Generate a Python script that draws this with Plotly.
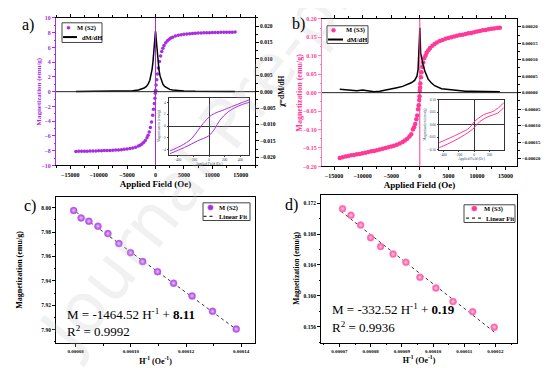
import plotly.graph_objects as go

# ---------------- data ----------------
# panel a: M (S2) vs applied field
H_a = [-14000, -13500, -13000, -12500, -12000, -11500, -11000, -10500, -10000, -9500, -9000, -8500,
       -8000, -7500, -7000, -6500, -6000, -5500, -5000, -4500, -4000, -3500, -3000, -2700, -2400,
       -2100, -1800, -1500, -1300, -1100, -900, -700, -500, -350, -200, -100, -30,
       30, 100, 200, 350, 500, 700, 900, 1100, 1300, 1500, 1800, 2100, 2400, 2700, 3000, 3500,
       4000, 4500, 5000, 5500, 6000, 6500, 7000, 7500, 8000, 8500, 9000, 9500, 10000, 10500,
       11000, 11500, 12000, 12500, 13000, 13500, 14000]
M_a = [-8.10, -8.09, -8.08, -8.07, -8.06, -8.05, -8.04, -8.03, -8.02, -8.00, -7.99, -7.97,
       -7.96, -7.94, -7.92, -7.89, -7.86, -7.82, -7.78, -7.72, -7.64, -7.53, -7.38, -7.26, -7.10,
       -6.90, -6.62, -6.25, -5.90, -5.45, -4.85, -4.10, -3.20, -2.40, -1.60, -0.90, -0.20,
       0.20, 0.90, 1.60, 2.40, 3.20, 4.10, 4.85, 5.45, 5.90, 6.25, 6.62, 6.90, 7.10, 7.26, 7.38, 7.53,
       7.64, 7.72, 7.78, 7.82, 7.86, 7.89, 7.92, 7.94, 7.96, 7.97, 7.99, 8.00, 8.01, 8.02,
       8.03, 8.04, 8.05, 8.06, 8.07, 8.07, 8.08]
Hd_a = [-14000, -10000, -7000, -5000, -4000, -3000, -2500, -2000, -1600, -1300, -1000, -800, -600,
        -450, -300, -200, -100, -50, 0, 50, 100, 200, 300, 450, 600, 800, 1000, 1300, 1600, 2000,
        2500, 3000, 4000, 5000, 7000, 10000, 14000]
dMdH_a = [0.00003, 0.00005, 0.0001, 0.0002, 0.0003, 0.0005, 0.0007, 0.0011, 0.0016, 0.0023, 0.0035,
          0.0048, 0.0068, 0.0090, 0.0118, 0.0140, 0.0165, 0.0178, 0.0185, 0.0178, 0.0165, 0.0140,
          0.0118, 0.0090, 0.0068, 0.0048, 0.0035, 0.0023, 0.0016, 0.0011, 0.0007, 0.0005, 0.0003,
          0.0002, 0.0001, 0.00005, 0.00003]
# inset a (low-field loop)
Hi_a_up = [512, 374, 202, 30, -77, -142, -228, -357, -499]
Mi_a_up = [4.40, 3.71, 2.80, 1.83, 0.40, -0.74, -2.17, -3.31, -4.17]
Hi_a_dn = [-499, -314, -142, 0, 73, 138, 245, 374, 512]
Mi_a_dn = [-4.63, -3.60, -2.46, -1.60, -0.46, 0.97, 2.40, 3.37, 4.00]

# panel b: M (S3)
H_b = [-14000, -13500, -13000, -12500, -12000, -11500, -11000, -10500, -10000, -9500, -9000, -8500,
       -8000, -7500, -7000, -6500, -6000, -5500, -5000, -4500, -4000, -3500, -3000, -2600, -2200,
       -1800, -1500, -1200, -1000, -800, -600, -450, -300, -200, -100, -50,
       0, 50, 100, 200, 300, 450, 600, 800, 1000, 1200, 1500, 1800, 2200, 2600, 3000, 3500, 4000,
       4500, 5000, 5500, 6000, 6500, 7000, 7500, 8000, 8500, 9000, 9500, 10000, 10500, 11000,
       11500, 12000, 12500, 13000, 13500, 14000]
M_b = [-0.177, -0.175, -0.173, -0.172, -0.170, -0.169, -0.167, -0.166, -0.164, -0.163, -0.161,
       -0.159, -0.158, -0.156, -0.154, -0.152, -0.150, -0.148, -0.146, -0.144, -0.141, -0.138,
       -0.134, -0.130, -0.125, -0.119, -0.113, -0.100, -0.094, -0.085, -0.072, -0.062, -0.045,
       -0.034, -0.020, -0.010,
       0.005, 0.014, 0.025, 0.042, 0.055, 0.070, 0.082, 0.094, 0.101, 0.108, 0.115, 0.121, 0.127,
       0.132, 0.136, 0.140, 0.143, 0.146, 0.148, 0.150, 0.152, 0.154, 0.156, 0.157, 0.159, 0.161,
       0.162, 0.164, 0.166, 0.167, 0.169, 0.170, 0.172, 0.173, 0.174, 0.175, 0.176]
Hd_b = [-14000, -13000, -12000, -11000, -10000, -9000, -8000, -7000, -6000, -5000, -4000, -3000,
        -2000, -1500, -900, -500, -300, -150, -50, 0, 50, 100, 150, 200, 300, 580, 875, 1460, 2000,
        2600, 3800, 5500, 7000, 8000, 9000, 10000, 11000, 12000, 13000, 14000]
dMdH_b = [0.000010, 0.000009, 0.000007, 0.000006, 0.000008, 0.000005, 0.000003, 0.000004, 0.000007,
          0.000011, 0.000015, 0.000019, 0.000025, 0.000030, 0.000037, 0.000050, 0.000070, 0.000110,
          0.000170, 0.000197, 0.000185, 0.000150, 0.000120, 0.000115, 0.000105, 0.000085, 0.000066,
          0.000041, 0.000030, 0.000021, 0.000012, 0.000008, 0.000005, 0.000004, 0.000004, 0.000004,
          0.000003, 0.000003, 0.000003, 0.000003]
# inset b
Hi_b_up = [-452, -313, -175, -60, 0, 124, 263, 387]
Mi_b_up = [-0.072, -0.053, -0.033, -0.013, 0.0105, 0.039, 0.055, 0.087]
Hi_b_dn = [-452, -267, -83, 0, 78, 194, 309, 387]
Mi_b_dn = [-0.092, -0.066, -0.033, -0.013, 0.013, 0.033, 0.046, 0.068]

# panel c: M vs 1/H (S2)
invH_c = [0.0000793, 0.0000820, 0.0000848, 0.0000881, 0.0000917, 0.0000957, 0.0000999, 0.0001043,
          0.0001097, 0.0001155, 0.0001222, 0.0001296, 0.0001382]
M_c = [7.9978, 7.9917, 7.9890, 7.9849, 7.9788, 7.9707, 7.9632, 7.9559, 7.9476, 7.9382, 7.9277,
       7.9151, 7.9005]
fit_x_c = [0.0000784, 0.0001392]
fit_y_c = [7.9995, 7.8987]

# panel d: M vs 1/H (S3)
invH_d = [0.0000710, 0.0000737, 0.0000768, 0.0000800, 0.0000832, 0.0000872, 0.0000913, 0.0000958,
          0.0001009, 0.0001064, 0.0001127, 0.0001196]
M_d = [0.17128, 0.17043, 0.16916, 0.16753, 0.16638, 0.16541, 0.16435, 0.16240, 0.16100, 0.15926,
       0.15794, 0.15595]
fit_x_d = [0.0000705, 0.0001196]
fit_y_d = [0.17094, 0.15532]

# ---------------- style ----------------
PURPLE = "#A62EE0"
PINK = "#FF3A96"
PINK_AX = "#FF7DB8"
SERIF = "Liberation Serif"
W, Hh = 554, 368

def px(x):
    return x / W

def py(y):
    return 1 - y / Hh

def tf(size, color="black"):
    return dict(family=SERIF, size=size, color=color, weight="bold")

fig = go.Figure()

# panel a
fig.add_trace(go.Scatter(x=H_a, y=M_a, mode="markers", name="M (S2)", xaxis="x", yaxis="y",
                         marker=dict(color=PURPLE, size=3.5)))
fig.add_trace(go.Scatter(x=Hd_a, y=dMdH_a, mode="lines", name="dM/dH", xaxis="x", yaxis="y2",
                         line=dict(color="black", width=1.5)))
fig.add_trace(go.Scatter(x=Hi_a_up, y=Mi_a_up, mode="lines", line=dict(color=PURPLE, width=1, shape="spline"),
                         xaxis="x5", yaxis="y7"))
fig.add_trace(go.Scatter(x=Hi_a_dn, y=Mi_a_dn, mode="lines", line=dict(color=PURPLE, width=1, shape="spline"),
                         xaxis="x5", yaxis="y7"))

# panel b
fig.add_trace(go.Scatter(x=H_b, y=M_b, mode="markers", name="M (S3)", xaxis="x2", yaxis="y3",
                         marker=dict(color=PINK, size=4.5)))
fig.add_trace(go.Scatter(x=Hd_b, y=dMdH_b, mode="lines", name="dM/dH", xaxis="x2", yaxis="y4",
                         line=dict(color="black", width=1.5)))
fig.add_trace(go.Scatter(x=Hi_b_up, y=Mi_b_up, mode="lines", line=dict(color=PINK, width=1, shape="spline"),
                         xaxis="x6", yaxis="y8"))
fig.add_trace(go.Scatter(x=Hi_b_dn, y=Mi_b_dn, mode="lines", line=dict(color=PINK, width=1, shape="spline"),
                         xaxis="x6", yaxis="y8"))

# panel c
fig.add_trace(go.Scatter(x=fit_x_c, y=fit_y_c, mode="lines", name="Linear Fit", xaxis="x3", yaxis="y5",
                         line=dict(color="#333333", width=1, dash="dot")))
fig.add_trace(go.Scatter(x=invH_c, y=M_c, mode="markers", name="M (S2)", xaxis="x3", yaxis="y5",
                         marker=dict(color=PURPLE, size=7, line=dict(color="#C97CF0", width=0.5),
                                     gradient=dict(type="radial", color="#E9C8FF"))))
# panel d
fig.add_trace(go.Scatter(x=fit_x_d, y=fit_y_d, mode="lines", name="Linear Fit", xaxis="x4", yaxis="y6",
                         line=dict(color="#333333", width=1, dash="dot")))
fig.add_trace(go.Scatter(x=invH_d, y=M_d, mode="markers", name="M (S3)", xaxis="x4", yaxis="y6",
                         marker=dict(color=PINK, size=7, line=dict(color="#FF9CC8", width=0.5),
                                     gradient=dict(type="radial", color="#FFD0E6"))))
fig.update_traces(showlegend=False)

def xax(domain, anchor, rng, tickvals, fmt, title, tsize, lsize, mirror="ticks", minor_d=None, color="black"):
    d = dict(domain=domain, anchor=anchor, range=rng, tickvals=tickvals, tickformat=fmt,
             showgrid=False, zeroline=False, showline=True, linecolor=color, linewidth=1,
             mirror=mirror, ticks="outside", ticklen=3, tickcolor=color, tickfont=tf(lsize),
             title=dict(text=title, font=tf(tsize), standoff=4))
    if minor_d is not None:
        d["minor"] = dict(dtick=minor_d, ticks="outside", ticklen=1.5, tickcolor=color)
    return d

def yax(domain, anchor, rng, tickvals, fmt, lsize, color="black", mirror=False,
        side="left", overlaying=None, minor_d=None, fcolor=None):
    d = dict(domain=domain, anchor=anchor, range=rng, tickvals=tickvals, tickformat=fmt,
             showgrid=False, zeroline=False, showline=True, linecolor=color, linewidth=1,
             mirror=mirror, ticks="outside", ticklen=3, tickcolor=color,
             tickfont=tf(lsize, fcolor or "black"), side=side)
    if overlaying:
        d["overlaying"] = overlaying
    if minor_d is not None:
        d["minor"] = dict(dtick=minor_d, ticks="outside", ticklen=1.5, tickcolor=color)
    return d

def inset_ax(domain, anchor, rng, tickvals, fmt, title):
    return dict(domain=domain, anchor=anchor, range=rng, tickvals=tickvals, tickformat=fmt,
                showgrid=False, zeroline=True, zerolinecolor="#333333", zerolinewidth=1, showline=True,
                linecolor="#333333", linewidth=1, mirror=True, ticks="outside", ticklen=1.5,
                tickfont=dict(family=SERIF, size=3.5), title=dict(text=title,
                font=dict(family=SERIF, size=3.5), standoff=1))

ya_dom = [py(157), py(7)]
yb_dom = [py(158), py(8)]

layout = dict(
    width=W, height=Hh, autosize=False,
    margin=dict(l=0, r=0, t=0, b=0),
    plot_bgcolor="white", paper_bgcolor="white",
    xaxis=xax([px(48), px(247)], "y", [-17500, 17500], [-15000, -10000, -5000, 0, 5000, 10000, 15000],
              "d", "Applied Field (Oe)", 9, 6, minor_d=2500),
    yaxis=yax(ya_dom, "x", [-10, 10], list(range(-10, 11, 2)), "d", 6,
              color=PURPLE, minor_d=1, fcolor=PURPLE),
    yaxis2=yax(ya_dom, "x", [-0.0225, 0.0225], [-0.02, -0.015, -0.01, -0.005, 0, 0.005, 0.01, 0.015, 0.02],
               ".3f", 5.5, side="right", overlaying="y", minor_d=0.0025),
    xaxis2=xax([px(314), px(509)], "y3", [-17100, 17000], [-15000, -10000, -5000, 0, 5000, 10000, 15000],
               "d", "Applied Field (Oe)", 9, 6, minor_d=2500),
    yaxis3=yax(yb_dom, "x2", [-0.2, 0.2], [-0.2, -0.15, -0.1, -0.05, 0, 0.05, 0.1, 0.15, 0.2], ".2f",
               6, color=PINK_AX, minor_d=0.025, fcolor=PINK),
    yaxis4=yax(yb_dom, "x2", [-0.000224, 0.000224],
               [-0.0002, -0.00015, -0.0001, -0.00005, 0, 0.00005, 0.0001, 0.00015, 0.0002],
               ".5f", 4.8, side="right", overlaying="y3", minor_d=0.000025),
    xaxis3=xax([px(48), px(247)], "y5", [0.0000729, 0.000145], [0.00008, 0.0001, 0.00012, 0.00014],
               ".5f", "H<sup>-1</sup> (Oe<sup>-1</sup>)", 8, 5, mirror=True, minor_d=0.00001),
    yaxis5=yax([py(338), py(189)], "x3", [7.8887, 8.0089], [7.90, 7.92, 7.94, 7.96, 7.98, 8.00], ".2f",
               5.5, mirror=True, minor_d=0.01),
    xaxis4=xax([px(313), px(509)], "y6", [0.0000641, 0.0001269],
               [0.00007, 0.00008, 0.00009, 0.0001, 0.00011, 0.00012], ".5f",
               "H<sup>-1</sup> (Oe<sup>-1</sup>)", 8, 5, mirror=True, minor_d=0.000005),
    yaxis6=yax([py(337), py(187)], "x4", [0.15396, 0.17306], [0.156, 0.160, 0.164, 0.168, 0.172], ".3f",
               5.5, mirror=True, minor_d=0.002),
    xaxis5=inset_ax([px(161), px(241)], "y7", [-512, 512], [-400, -200, 0, 200, 400], "d", "Applied Field (Oe)"),
    yaxis7=inset_ax([py(146), py(88)], "x5", [-4.8, 4.8], [-4, -2, 0, 2, 4], "d", "Magnetization (emu/g)"),
    xaxis6=inset_ax([px(431), px(496)], "y8", [-455, 390], [-400, -200, 0, 200, 400], "d", "Applied Field (Oe)"),
    yaxis8=inset_ax([py(141), py(90)], "x6", [-0.1, 0.1], [-0.1, -0.05, 0, 0.05, 0.1], ".2f",
                    "Magnetization (emu/g)"),
)
fig.update_layout(**layout)

# zero lines of the main M-H panels + hand-made legends
shapes = [
    dict(type="line", xref="x", yref="y domain", x0=0, x1=0, y0=0, y1=1, line=dict(color=PURPLE, width=1)),
    dict(type="line", xref="x domain", yref="y", x0=0, x1=1, y0=0, y1=0, line=dict(color="#222", width=1)),
    dict(type="line", xref="x2", yref="y3 domain", x0=0, x1=0, y0=0, y1=1, line=dict(color=PINK, width=1)),
    dict(type="line", xref="x2 domain", yref="y3", x0=0, x1=1, y0=0, y1=0, line=dict(color="#222", width=1)),
]

def legend_box(x0, y0, x1, y1):
    return dict(type="rect", xref="paper", yref="paper", x0=px(x0), x1=px(x1), y0=py(y1), y1=py(y0),
                line=dict(color="#444", width=1), fillcolor="white", layer="above")

def legend_line(x0, x1, y, dash="solid", width=2, color="black"):
    return dict(type="line", xref="paper", yref="paper", x0=px(x0), x1=px(x1), y0=py(y), y1=py(y),
                line=dict(color=color, width=width, dash=dash), layer="above")

def legend_dot(cx, cy, r, color, lcolor=None):
    return dict(type="circle", xref="paper", yref="paper", x0=px(cx - r), x1=px(cx + r),
                y0=py(cy + r), y1=py(cy - r), fillcolor=color,
                line=dict(color=lcolor or color, width=0.5), layer="above")

shapes += [
    legend_box(54, 12, 94, 32), legend_dot(60.5, 17, 1.6, PURPLE), legend_line(55, 69, 26.5),
    legend_box(319, 15, 360, 33), legend_dot(325.5, 19.5, 2, PINK), legend_line(320, 335, 29),
    legend_box(195, 195, 242, 213), legend_dot(202.5, 199.8, 2.8, PURPLE, "#D9A8F5"),
    legend_line(195.5, 207, 208.8, dash="dot", width=1.2, color="#333"),
    legend_box(456, 197, 507, 215), legend_dot(466.3, 200.8, 2.8, PINK, "#FFB0D4"),
    legend_line(458, 473, 210.5, dash="dot", width=1.2, color="#333"),
]
fig.update_layout(shapes=shapes)

def A(text, x, y, size, color="black", bold=False, angle=0, xanchor="center", family=SERIF):
    f = dict(family=family, size=size, color=color)
    if bold:
        f["weight"] = "bold"
    return dict(text=text, x=px(x), y=py(y), xref="paper", yref="paper", showarrow=False,
                xanchor=xanchor, yanchor="middle", textangle=angle, font=f)

ann = [
    A("Journal Pre-proof", 222, 110, 68, color="rgba(190,190,190,0.22)", angle=-52, family="DejaVu Sans"),
    A("a)", 20, 14, 16), A("b)", 290, 13, 16), A("c)", 22, 198, 16), A("d)", 283, 197, 16),
    # axis titles
    A("Magnetization (emu/g)", 31, 82, 7, color=PURPLE, bold=True, angle=-90),
    A("χ=dM/dH", 274, 82, 7.5, bold=True, angle=-90),
    A("Magnetization (emu/g)", 292, 83, 8, color=PINK, bold=True, angle=-90),
    A("χ=dM/dH", 543, 82, 7, bold=True, angle=-90),
    A("Magnetization (emu/g)", 12, 263, 8, bold=True, angle=-90),
    A("Magnetization (emu/g)", 289, 262, 7.5, bold=True, angle=-90),
    # legend texts
    A("M (S2)", 67, 17, 6.5, bold=True, xanchor="left"),
    A("dM/dH", 71.5, 26.5, 6.5, bold=True, xanchor="left"),
    A("M (S3)", 336, 19.5, 6.5, bold=True, xanchor="left"),
    A("dM/dH", 337, 29, 6.5, bold=True, xanchor="left"),
    A("M (S2)", 209, 199.8, 6.5, bold=True, xanchor="left"),
    A("Linear Fit", 209, 208.8, 6.5, bold=True, xanchor="left"),
    A("M (S3)", 474, 200.8, 6.5, bold=True, xanchor="left"),
    A("Linear Fit", 476, 210.5, 6.5, bold=True, xanchor="left"),
    # fit equations
    A("M = -1464.52 H<sup>-1</sup> + <b>8.11</b>", 57, 308, 13, xanchor="left"),
    A("R<sup>2</sup> = 0.9992", 57, 325, 13, xanchor="left"),
    A("M = -332.52 H<sup>-1</sup> + <b>0.19</b>", 322, 303, 13, xanchor="left"),
    A("R<sup>2</sup> = 0.9936", 322, 321, 13, xanchor="left"),
]
fig.update_layout(annotations=ann)

fig.write_html("out.html")
